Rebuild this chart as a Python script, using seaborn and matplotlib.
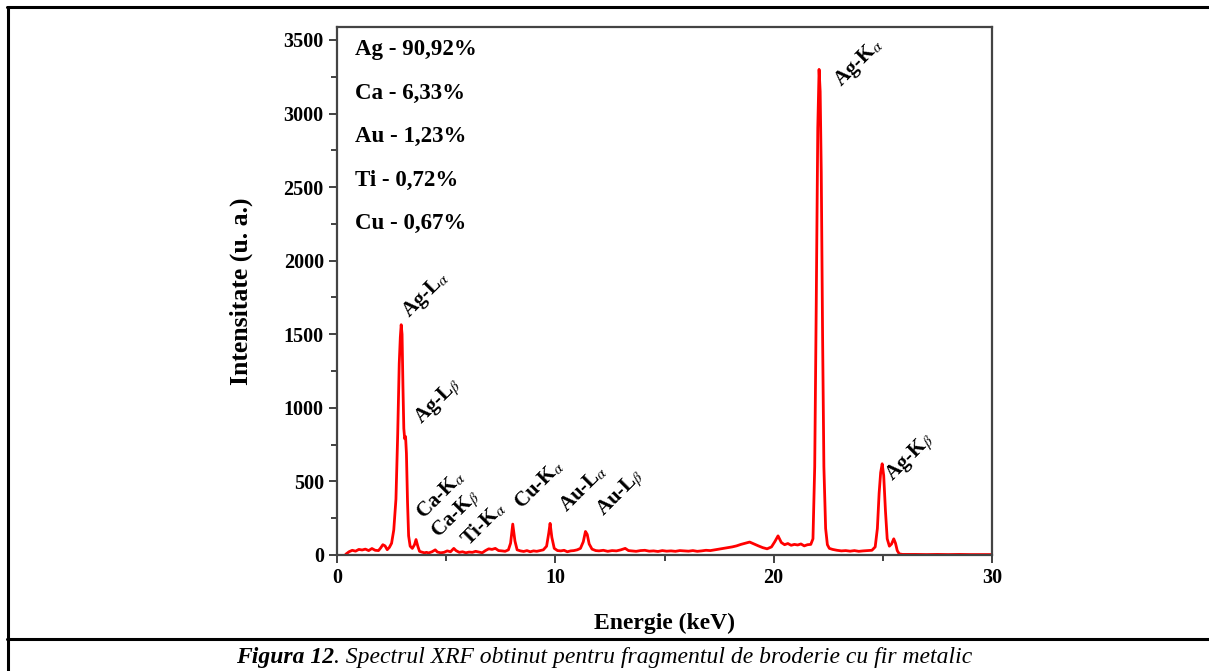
import matplotlib
matplotlib.use("Agg")
import matplotlib.pyplot as plt
from matplotlib.lines import Line2D
from matplotlib.ticker import MultipleLocator
import seaborn as sns
import pandas as pd

# ---------------- data ----------------
energy = [0.40, 0.55, 0.70, 0.85, 1.00, 1.15, 1.30, 1.45, 1.60, 1.75, 1.90, 2.00,
          2.10, 2.20, 2.30, 2.40, 2.50, 2.60, 2.70, 2.78, 2.85, 2.90, 2.94, 2.98,
          3.02, 3.06, 3.10, 3.14, 3.18, 3.23, 3.28, 3.35, 3.45, 3.55, 3.62, 3.70,
          3.78, 3.88, 4.00, 4.10, 4.20, 4.35, 4.50, 4.60, 4.75, 4.90, 5.05, 5.20,
          5.35, 5.45, 5.60, 5.75, 5.90, 6.05, 6.20, 6.35, 6.50, 6.65, 6.80, 6.95,
          7.10, 7.25, 7.40, 7.55, 7.70, 7.85, 7.95, 8.05, 8.15, 8.25, 8.40, 8.55,
          8.70, 8.85, 9.00, 9.15, 9.30, 9.45, 9.60, 9.70, 9.76, 9.84, 9.95, 10.10,
          10.25, 10.40, 10.55, 10.70, 10.85, 11.00, 11.15, 11.28, 11.38, 11.46, 11.55,
          11.68, 11.85, 12.00, 12.20, 12.40, 12.60, 12.80, 13.00, 13.20, 13.35, 13.50,
          13.70, 13.90, 14.10, 14.30, 14.50, 14.70, 14.90, 15.10, 15.30, 15.50, 15.70,
          15.90, 16.10, 16.30, 16.50, 16.70, 16.90, 17.10, 17.30, 17.50, 17.70, 17.90,
          18.10, 18.30, 18.50, 18.70, 18.90, 19.10, 19.30, 19.50, 19.70, 19.90, 20.05,
          20.20, 20.35, 20.50, 20.65, 20.80, 20.95, 21.10, 21.25, 21.40, 21.55, 21.70,
          21.80, 21.88, 21.95, 22.02, 22.08, 22.13, 22.18, 22.24, 22.30, 22.38, 22.46,
          22.55, 22.70, 22.90, 23.10, 23.30, 23.50, 23.70, 23.90, 24.10, 24.30, 24.50,
          24.65, 24.75, 24.83, 24.90, 24.97, 25.04, 25.12, 25.20, 25.30, 25.40, 25.50,
          25.58, 25.66, 25.75, 25.90, 26.50, 27.00, 27.50, 28.00, 28.50, 29.00, 29.50,
          30.00]
intensity = [5, 22, 32, 26, 38, 34, 40, 30, 44, 32, 30, 48,
             70, 62, 36, 52, 80, 170, 380, 820, 1300, 1480, 1565, 1500,
             1150, 860, 790, 805, 690, 360, 130, 60, 45, 70, 105, 60,
             25, 20, 15, 18, 14, 22, 35, 20, 15, 18, 28, 22,
             45, 30, 18, 22, 15, 20, 18, 25, 20, 15, 30, 42,
             38, 45, 30, 28, 25, 35, 80, 210, 95, 35, 28, 24,
             30, 22, 28, 25, 30, 35, 60, 150, 215, 120, 45, 30,
             28, 32, 22, 28, 30, 35, 45, 90, 160, 140, 75,
             40, 30, 28, 32, 25, 30, 28, 35, 45, 30, 28,
             25, 30, 32, 26, 28, 24, 30, 26, 28, 25, 30,
             28, 26, 30, 25, 28, 32, 30, 35, 40, 45, 50,
             55, 62, 72, 80, 88, 75, 62, 50, 42, 55, 90,
             130, 85, 70, 78, 66, 72, 68, 75, 62, 70, 72,
             110, 600, 1700, 2900, 3300, 3150, 2600, 1500, 600, 180, 70,
             45, 38, 32, 28, 30, 26, 30, 25, 28, 30, 32,
             55, 180, 420, 560, 620, 540, 300, 110, 60, 75, 110,
             80, 30, 8, 4, 4, 3, 4, 3, 4, 3, 3,
             3]

composition = ["Ag - 90,92%", "Ca - 6,33%", "Au - 1,23%", "Ti - 0,72%", "Cu - 0,67%"]
comp_y = [3434, 3135, 2842, 2543, 2251]

peak_labels = [r"Ag-L$_\alpha$", r"Ag-L$_\beta$", r"Ca-K$_\alpha$", r"Ca-K$_\beta$",
               r"Ti-K$_\alpha$", r"Cu-K$_\alpha$", r"Au-L$_\alpha$", r"Au-L$_\beta$",
               r"Ag-K$_\alpha$", r"Ag-K$_\beta$"]
peak_x = [3.32, 3.87, 3.96, 4.65, 6.03, 8.45, 10.5, 12.2, 23.1, 25.45]
peak_y = [1612, 884, 238, 109, 54, 306, 285, 258, 3182, 496]

xticks = [0, 10, 20, 30]
yticks = [0, 500, 1000, 1500, 2000, 2500, 3000, 3500]

# ---------------- style ----------------
sns.set_style("ticks")
plt.rcParams["font.family"] = ["Liberation Serif", "DejaVu Serif"]
plt.rcParams["mathtext.fontset"] = "stix"
plt.rcParams["text.color"] = "black"
plt.rcParams["axes.labelcolor"] = "black"

W, H = 1209, 671
fig = plt.figure(figsize=(W / 100, H / 100), dpi=100)
ax = fig.add_axes([337 / W, 1 - 555 / H, (992 - 337) / W, (555 - 27) / H])

df = pd.DataFrame({"Energie": energy, "Intensitate": intensity})
sns.lineplot(data=df, x="Energie", y="Intensitate", color="#ff0000", lw=2.0,
             ax=ax, sort=False)

ax.set_xlim(0, 30)
ax.set_ylim(0, 3588)
ax.set_xticks(xticks)
ax.set_yticks(yticks)
ax.xaxis.set_minor_locator(MultipleLocator(5))
ax.yaxis.set_minor_locator(MultipleLocator(250))
ax.tick_params(which="major", direction="out", length=6, width=1.3, colors="#333333",
               labelcolor="black", labelsize=14.5)
ax.tick_params(which="minor", direction="out", length=4, width=1.3, colors="#333333")
for lab in ax.get_xticklabels() + ax.get_yticklabels():
    lab.set_fontweight("bold")
for sp in ax.spines.values():
    sp.set_visible(True)
    sp.set_color("#444444")
    sp.set_linewidth(1.6)

ax.set_xlabel("Energie (keV)", fontsize=17, fontweight="bold", labelpad=18, color="black")
ax.set_ylabel("Intensitate (u. a.)", fontsize=18.5, fontweight="bold", labelpad=22,
              color="black")

for txt, yy in zip(composition, comp_y):
    ax.text(0.82, yy, txt, fontsize=16.5, fontweight="bold", va="center", ha="left",
            color="black")

for txt, xx, yy in zip(peak_labels, peak_x, peak_y):
    ax.text(xx, yy, txt, fontsize=15, fontweight="bold", rotation=45,
            rotation_mode="anchor", ha="left", va="baseline", color="black")

# ---------------- page frame ----------------
lw = 2.2
fig.add_artist(Line2D([7 / W, 1], [1 - 7 / H, 1 - 7 / H], color="black", lw=lw,
                      transform=fig.transFigure))
fig.add_artist(Line2D([7.5 / W, 7.5 / W], [0, 1 - 7 / H], color="black", lw=lw,
                      transform=fig.transFigure))
fig.add_artist(Line2D([7 / W, 1], [1 - 639 / H, 1 - 639 / H], color="black", lw=lw,
                      transform=fig.transFigure))

# ---------------- caption ----------------
fig.canvas.draw()
r = fig.canvas.get_renderer()
cy = 1 - 657 / H
t1 = fig.text(0, cy, "Figura 12", fontsize=17, fontweight="bold", style="italic",
              va="center", ha="left", color="black")
t2 = fig.text(0, cy, ". Spectrul XRF obtinut pentru fragmentul de broderie cu fir metalic",
              fontsize=17, style="italic", va="center", ha="left", color="black")
w1 = t1.get_window_extent(r).width
w2 = t2.get_window_extent(r).width
x0 = 604 - (w1 + w2) / 2
t1.set_x(x0 / W)
t2.set_x((x0 + w1) / W)

fig.savefig("out.png", dpi=100)
